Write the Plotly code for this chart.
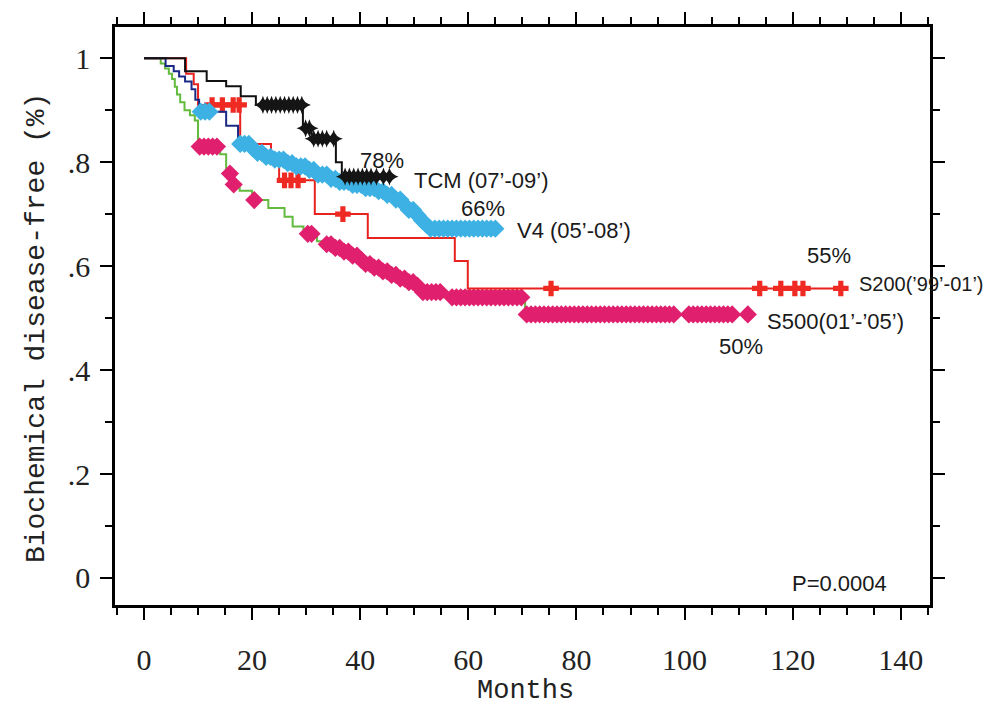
import bisect
import plotly.graph_objects as go

# ---------------- data ----------------
# TCM (07'-09')  black
tcm_t = [0, 7.6, 11.6, 15.2, 17.9, 20.7, 29.4, 31.0, 35.5, 36.6]
tcm_s = [1.0, 0.975, 0.956, 0.946, 0.927, 0.91, 0.865, 0.845, 0.80, 0.772]
tcm_end = 45.6
tcm_cens = [22.0, 22.8, 23.6, 24.4, 25.2, 26.0, 26.8, 27.6, 28.4, 29.2, 29.9, 30.6,
            31.4, 32.2, 33.0, 33.8, 35.1, 37.2, 38.0, 38.8, 39.6, 40.4, 41.2, 42.0,
            43.0, 44.3, 45.4]

# S200('99'-01')  red
s200_t = [0, 7.8, 9.2, 10.0, 17.8, 23.5, 25.0, 31.6, 41.4, 57.5, 59.9]
s200_s = [1.0, 0.97, 0.95, 0.91, 0.835, 0.80, 0.765, 0.70, 0.654, 0.61, 0.557]
s200_end = 129.0
s200_cens = [12.6, 14.5, 16.5, 17.6, 26.0, 27.2, 28.5, 36.8, 75.3, 113.9, 117.8,
             120.4, 121.9, 128.9]

# V4 (05'-08')  navy line, cyan markers
v4_t = [0, 4.0, 5.5, 6.5, 7.6, 8.8, 9.5, 10.2, 15.2, 17.4, 19.5, 21.0, 22.5, 24.0,
        26.0, 28.0, 30.0, 32.0, 34.0, 36.0, 38.5, 41.0, 43.0, 45.0, 46.5, 48.0,
        49.0, 50.0, 51.0, 52.0, 53.0]
v4_s = [1.0, 0.985, 0.975, 0.965, 0.955, 0.94, 0.92, 0.897, 0.87, 0.835, 0.826,
        0.818, 0.81, 0.805, 0.798, 0.792, 0.785, 0.776, 0.768, 0.762, 0.756, 0.75,
        0.744, 0.737, 0.728, 0.718, 0.708, 0.698, 0.688, 0.68, 0.672]
v4_end = 65.6
v4_cens = [10.5, 11.3, 12.1, 17.8, 18.6, 19.4, 20.2, 21.0, 21.8, 22.6, 23.4, 24.2,
           25.0, 25.8, 26.6, 27.4, 28.2, 29.0, 29.8, 30.6, 31.4, 32.2, 33.0, 33.8,
           34.6, 35.4, 36.2, 37.0, 37.8, 38.6, 39.4, 40.2, 41.0, 41.8, 42.6, 43.4,
           44.2, 45.0, 45.8, 46.6, 47.4, 48.2, 49.0, 49.8, 50.6, 51.4, 52.2, 53.0,
           53.8, 54.6, 55.4, 56.2, 57.0, 57.8, 58.6, 59.4, 60.2, 61.0, 61.8, 62.6,
           63.4, 64.2, 65.0]

# S500(01'-'05')  green line, pink markers
s500_t = [0, 3.1, 3.9, 4.6, 5.2, 5.7, 6.1, 6.7, 7.5, 8.5, 9.4, 10.0, 14.1, 15.2,
          16.2, 17.7, 20.0, 23.0, 26.0, 27.5, 29.5, 32.0, 33.5, 35.0, 36.5, 38.0,
          39.5, 41.0, 42.5, 44.0, 45.5, 47.0, 48.5, 50.0, 51.0, 55.2, 70.5]
s500_s = [1.0, 0.99, 0.98, 0.97, 0.96, 0.945, 0.93, 0.915, 0.90, 0.89, 0.88, 0.83,
          0.815, 0.778, 0.757, 0.745, 0.727, 0.712, 0.695, 0.676, 0.662, 0.648,
          0.642, 0.635, 0.628, 0.62, 0.612, 0.604, 0.597, 0.59, 0.583, 0.576,
          0.569, 0.562, 0.55, 0.54, 0.507]
s500_end = 111.7
s500_cens = [10.3, 11.1, 11.9, 12.7, 13.5, 15.9, 16.6, 20.4, 30.3, 31.0, 33.8, 34.6,
             35.4, 36.2, 37.0, 37.8, 38.6, 39.4, 40.2, 41.0, 41.8, 42.6, 43.4, 44.2,
             45.0, 45.8, 46.6, 47.4, 48.2, 49.0, 49.8, 50.6, 51.6, 52.4, 53.2, 54.0,
             54.8, 57.0, 57.8, 58.6, 59.4, 60.2, 61.0, 61.8, 62.6, 63.4, 64.2, 65.0,
             65.8, 66.6, 67.4, 68.2, 69.0, 69.8, 70.8, 71.6, 72.4, 73.2, 74.0, 74.8,
             75.6, 76.4, 77.2, 78.0, 78.8, 79.6, 80.4, 81.2, 82.0, 82.8, 83.6, 84.4,
             85.2, 86.0, 86.8, 87.6, 88.4, 89.2, 90.0, 90.8, 91.6, 92.4, 93.2, 94.0,
             94.8, 95.6, 96.4, 97.2, 98.0, 100.8, 101.6, 102.4, 103.2, 104.0, 104.8,
             105.6, 106.4, 107.2, 108.0, 108.8, 111.7]

x_ticks = [0, 20, 40, 60, 80, 100, 120, 140]
y_ticks = [0, 0.2, 0.4, 0.6, 0.8, 1.0]
y_tick_text = ["0", ".2", ".4", ".6", ".8", "1"]

labels = [
    ("78%", 44.1, 0.804, "center", 22),
    ("TCM (07’-09’)", 62.3, 0.765, "center", 22),
    ("66%", 62.7, 0.71, "center", 22),
    ("V4 (05’-08’)", 79.5, 0.669, "center", 22),
    ("55%", 126.7, 0.621, "center", 22),
    ("S200(’99’-01’)", 132.0, 0.565, "left", 20),
    ("S500(01’-’05’)", 128.0, 0.494, "center", 22),
    ("50%", 110.4, 0.446, "center", 22),
    ("P=0.0004", 128.7, -0.01, "center", 22),
]


def step_value(ts, ss, t):
    i = bisect.bisect_right(ts, t) - 1
    return ss[max(i, 0)]


fig = go.Figure()

series = [
    (s500_t, s500_s, s500_end, s500_cens, "#62bb3e", "#e0206e", "diamond", 14),
    (s200_t, s200_s, s200_end, s200_cens, "#e8231f", "#ee2a22", "cross", 13),
    (v4_t, v4_s, v4_end, v4_cens, "#1b2a86", "#3db1e3", "diamond", 14),
    (tcm_t, tcm_s, tcm_end, tcm_cens, "#111111", "#151515", "star-diamond", 13),
]

for ts, ss, end, cens, lc, mc, sym, msz in series:
    fig.add_trace(go.Scatter(
        x=ts + [end], y=ss + [ss[-1]], mode="lines",
        line=dict(color=lc, width=2, shape="hv"),
        showlegend=False, hoverinfo="skip"))
    fig.add_trace(go.Scatter(
        x=cens, y=[step_value(ts, ss, c) for c in cens], mode="markers",
        marker=dict(symbol=sym, size=msz, color=mc, line=dict(width=0)),
        showlegend=False, hoverinfo="skip"))

for txt, x, y, anc, fs in labels:
    fig.add_annotation(x=x, y=y, xref="x", yref="y", text=txt, showarrow=False,
                       xanchor=anc, yanchor="middle", borderpad=0,
                       font=dict(family="Liberation Sans, Arial", size=fs,
                                 color="#1a1a1a"))

fig.add_annotation(xref="paper", yref="paper", x=-0.097, y=0.479,
                   text="Biochemical disease-free (%)", textangle=-90,
                   showarrow=False, xanchor="center", yanchor="middle",
                   font=dict(family="Liberation Mono, Courier New", size=28,
                             color="#222"))
fig.add_annotation(xref="paper", yref="paper", x=0.504, y=-0.148,
                   text="Months", showarrow=False, xanchor="center",
                   yanchor="middle",
                   font=dict(family="Liberation Mono, Courier New", size=27,
                             color="#222"))

axis_common = dict(
    showline=True, linecolor="black", linewidth=2.5, mirror="ticks",
    ticks="outside", tickcolor="black", tickwidth=2, ticklen=12,
    showgrid=False, zeroline=False,
    tickfont=dict(family="Liberation Serif, Times New Roman", size=30,
                  color="#222"),
)

fig.update_xaxes(range=[-5.36, 145.4], tickvals=x_ticks,
                 minor=dict(dtick=5, tick0=0, ticks="outside", ticklen=7,
                            tickwidth=2, tickcolor="black"),
                 ticklabelstandoff=14, **axis_common)
fig.update_yaxes(range=[-0.052, 1.06], tickvals=y_ticks, ticktext=y_tick_text,
                 minor=dict(dtick=0.1, tick0=0, ticks="outside", ticklen=7,
                            tickwidth=2, tickcolor="black"),
                 ticklabelstandoff=4, **axis_common)

fig.update_layout(
    width=998, height=706,
    margin=dict(l=107, r=76, t=19, b=109, autoexpand=False),
    plot_bgcolor="white", paper_bgcolor="white",
    showlegend=False,
)

fig.write_html("out.html")
